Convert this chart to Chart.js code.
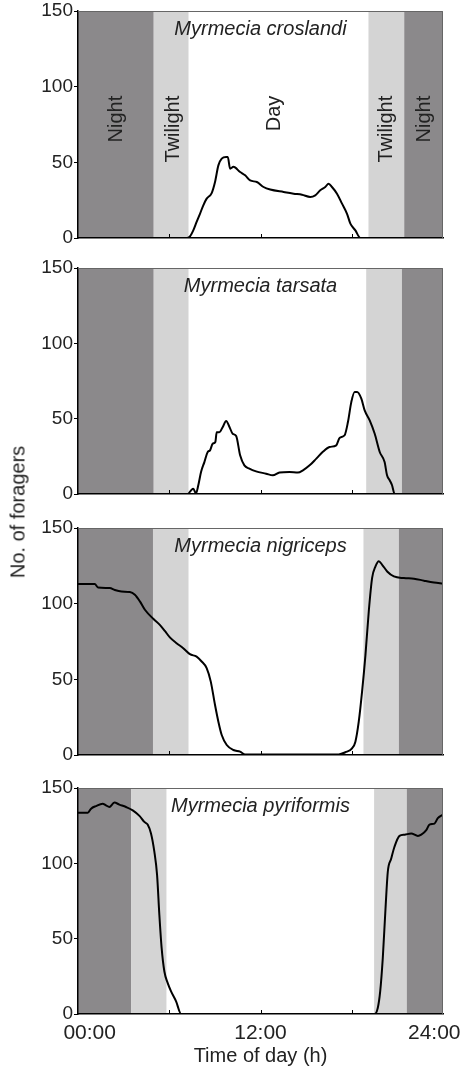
<!DOCTYPE html>
<html>
<head>
<meta charset="utf-8">
<title>Foraging activity of Myrmecia ants</title>
<script src="https://cdn.jsdelivr.net/npm/chart.js@4.4.1/dist/chart.umd.min.js"></script>
<style>
  body { margin: 0; background: #fff; overflow: hidden; }
  #wrap { position: relative; width: 467px; height: 1069px; overflow: hidden; }
  .panel { position: absolute; left: 0; width: 500px; }
  #ylab {
    position: absolute; left: 18px; top: 512px;
    transform: translate(-50%, -50%) rotate(-90deg);
    font: 20px "Liberation Sans", Arial, sans-serif; color: #222; white-space: nowrap;
  }
</style>
</head>
<body>
<div id="wrap">
  <div class="panel" style="top:-3px;height:255px"><canvas id="c1"></canvas></div>
  <div class="panel" style="top:254px;height:254px"><canvas id="c2"></canvas></div>
  <div class="panel" style="top:514px;height:255px"><canvas id="c3"></canvas></div>
  <div class="panel" style="top:774px;height:295px"><canvas id="c4"></canvas></div>
  <div id="ylab">No. of foragers</div>
</div>
<script>
// hours of day and number of foragers
const crosHours = [0, 7.14, 7.36, 7.58, 7.8, 8.02, 8.24, 8.46, 8.79, 9.01, 9.23, 9.45, 9.74, 9.85, 10.0, 10.22, 10.66, 10.99, 11.32, 11.76, 12.2, 12.64, 13.52, 14.18, 14.73, 15.27, 15.6, 15.93, 16.26, 16.48, 16.7, 17.03, 17.36, 17.69, 17.91, 18.24, 18.57, 24];
const crosCount = [0, 0, 1, 5, 10.6, 16, 21.6, 26, 29.7, 37, 48, 52.4, 53.5, 53.5, 45.8, 47, 43.6, 41.4, 38, 37, 33.7, 32, 30.4, 29.3, 28.6, 27.1, 28.2, 31.5, 33.7, 35.9, 33.7, 29.3, 22.7, 16, 9.5, 5, 0, 0];

const tarsHours = [0, 7.21, 7.43, 7.58, 7.76, 7.91, 8.09, 8.31, 8.53, 8.68, 8.86, 9.03, 9.12, 9.29, 9.52, 9.74, 9.96, 10.17, 10.4, 10.66, 10.94, 11.27, 11.71, 12.37, 12.81, 13.25, 13.91, 14.46, 14.79, 15.23, 15.67, 16.1, 16.54, 16.98, 17.2, 17.53, 17.75, 17.97, 18.19, 18.35, 18.63, 18.85, 19.18, 19.51, 19.84, 20.16, 20.32, 20.5, 20.65, 20.82, 24];
const tarsCount = [0, 0, 2.4, 3.5, 0.4, 5.8, 14.6, 21.2, 27.9, 29, 33.4, 34.5, 41, 41, 44.5, 48.5, 44.5, 40, 38.5, 25.7, 19, 16.8, 15, 13.5, 12.4, 14.2, 14.6, 14.2, 15.7, 19, 23.5, 28, 31.2, 32.3, 37.2, 39, 47.8, 61, 67.7, 67.7, 63.3, 55.5, 48.9, 40, 27.9, 21.2, 12.4, 9, 5.8, 0, 0];

const nigrHours = [0, 1.1, 1.32, 2.09, 2.42, 2.86, 3.41, 3.74, 4.07, 4.4, 4.95, 5.38, 5.71, 6.04, 6.48, 6.92, 7.36, 7.8, 8.13, 8.46, 8.73, 9.01, 9.23, 9.45, 9.78, 10.22, 10.66, 10.99, 17.14, 17.58, 18.02, 18.24, 18.46, 18.68, 18.9, 19.12, 19.34, 19.56, 19.78, 20.0, 20.33, 20.77, 21.43, 22.09, 22.75, 23.41, 24];
const nigrCount = [113, 113, 110.7, 110.3, 109, 108, 107.7, 105.9, 101.5, 96, 90, 86, 82, 77.7, 73.9, 70.6, 66.6, 65, 61.8, 57.4, 48.5, 33, 22, 13.2, 6.6, 3.3, 2.2, 0.4, 0.4, 1.8, 4.4, 8.8, 22, 42, 66, 95, 117, 124.6, 128, 125.7, 121.3, 118, 116.9, 116.5, 115.2, 114, 113.2];

const pyriHours = [0, 0.64, 0.86, 1.18, 1.62, 1.84, 2.06, 2.39, 2.72, 3.16, 3.6, 4.04, 4.36, 4.58, 4.8, 5.02, 5.2, 5.35, 5.5, 5.68, 5.9, 6.12, 6.45, 6.78, 19.5, 19.71, 19.87, 20.04, 20.22, 20.37, 20.59, 20.81, 21.14, 21.47, 21.91, 22.35, 22.57, 22.9, 23.11, 23.44, 23.66, 24];
const pyriCount = [133.5, 133.5, 136.3, 138, 139.6, 138.5, 137.4, 140.3, 139, 137.4, 135.2, 131.5, 127.5, 125.7, 119.8, 107.7, 92.2, 65.7, 43.7, 28.2, 20.5, 15, 8.4, 0, 0, 4, 15, 37, 70, 94.4, 103, 111, 118.2, 119, 119.8, 118.2, 119, 122, 125.7, 126.4, 130, 132.4];

// dusk/dawn limits (h): night|twilight, twilight|day, day|twilight, twilight|night
const crosPhases = [4.98, 7.28, 19.1, 21.45];
const tarsPhases = [4.98, 7.28, 18.95, 21.3];
const nigrPhases = [4.93, 7.28, 18.77, 21.1];
const pyriPhases = [3.49, 5.83, 19.47, 21.62];

const speciesNames = ['Myrmecia croslandi', 'Myrmecia tarsata', 'Myrmecia nigriceps', 'Myrmecia pyriformis'];
const phaseNames = ['Night', 'Twilight', 'Day', 'Twilight', 'Night'];
const phaseLabelHours = [2.5, 6.25, 12.9, 20.26, 22.76];
const yTicks = [0, 50, 100, 150];
const xTickLabels = ['00:00', '12:00', '24:00'];
const minorHours = [6, 12, 18];

const FONT = '"Liberation Sans", Arial, sans-serif';
const DARK = '#8b898b';
const LIGHT = '#d4d4d4';

// the end labels sit a little inside the axis ends, as in the original figure
function xLabel(v) {
  if (v % 12 !== 0) return '';
  const t = xTickLabels[v / 12];
  if (v === 0) return '    ' + t;
  if (v === 24) return t + '   ';
  return t;
}

const phasePlugin = {
  id: 'phases',
  beforeDraw(chart, args, opts) {
    const { ctx, chartArea: a, scales: { x, y } } = chart;
    const edges = [0, ...opts.edges, 24];
    const fills = [DARK, LIGHT, '#fff', LIGHT, DARK];
    ctx.save();
    for (let i = 0; i < fills.length; i++) {
      const x0 = x.getPixelForValue(edges[i]);
      const x1 = x.getPixelForValue(edges[i + 1]);
      ctx.fillStyle = fills[i];
      ctx.fillRect(x0, a.top, x1 - x0, a.bottom - a.top);
    }
    ctx.fillStyle = '#222';
    if (opts.showNames) {
      ctx.font = '20px ' + FONT;
      ctx.textAlign = 'right';
      ctx.textBaseline = 'middle';
      phaseNames.forEach((n, i) => {
        ctx.save();
        ctx.translate(x.getPixelForValue(phaseLabelHours[i]), y.getPixelForValue(94));
        ctx.rotate(-Math.PI / 2);
        ctx.fillText(n, 0, 0);
        ctx.restore();
      });
    }
    ctx.font = 'italic 20px ' + FONT;
    ctx.textAlign = 'center';
    ctx.textBaseline = 'alphabetic';
    ctx.fillText(opts.title, (a.left + a.right) / 2, a.top + 24);
    ctx.restore();
  },
  afterDatasetsDraw(chart) {
    const { ctx, chartArea: a, scales: { x } } = chart;
    ctx.save();
    ctx.strokeStyle = '#000';
    ctx.lineWidth = 1;
    minorHours.forEach(h => {
      const px = Math.round(x.getPixelForValue(h)) + 0.5;
      ctx.beginPath();
      ctx.moveTo(px, a.bottom);
      ctx.lineTo(px, a.bottom - 4);
      ctx.stroke();
    });
    ctx.strokeStyle = '#666';
    ctx.beginPath();
    ctx.moveTo(a.left, a.top + 0.5);
    ctx.lineTo(a.right - 0.5, a.top + 0.5);
    ctx.lineTo(a.right - 0.5, a.bottom);
    ctx.stroke();
    ctx.restore();
  }
};

function makePanel(id, hours, counts, phases, title, showNames, isBottom) {
  new Chart(document.getElementById(id), {
    type: 'line',
    data: {
      datasets: [{
        data: hours.map((h, i) => ({ x: h, y: counts[i] })),
        borderColor: '#000',
        borderWidth: 2,
        pointRadius: 0,
        cubicInterpolationMode: 'monotone',
        fill: false
      }]
    },
    options: {
      responsive: true,
      maintainAspectRatio: false,
      animation: false,
      layout: { padding: { top: 14, right: 57, left: 0, bottom: 0 } },
      plugins: {
        legend: { display: false },
        tooltip: { enabled: false },
        phases: { edges: phases, title: title, showNames: showNames }
      },
      scales: {
        x: {
          type: 'linear', min: 0, max: 24,
          grid: { display: false },
          border: { color: '#000', width: 1.5 },
          ticks: {
            display: isBottom, stepSize: 6, autoSkip: false, maxRotation: 0,
            padding: -1, color: '#222', font: { family: FONT, size: 21 },
            callback: xLabel
          },
          title: {
            display: isBottom, text: 'Time of day (h)', color: '#222',
            font: { family: FONT, size: 20 }, padding: { top: 0, bottom: 1 }
          },
          afterFit: s => { s.height = isBottom ? 55 : 14; }
        },
        y: {
          min: 0, max: 150,
          afterBuildTicks: s => { s.ticks = yTicks.map(v => ({ value: v })); },
          grid: { drawOnChartArea: false, drawTicks: true, tickLength: 4, color: '#000' },
          border: { color: '#000', width: 1.5 },
          ticks: { padding: 1, color: '#222', font: { family: FONT, size: 19 } },
          afterFit: s => { s.width = 78; }
        }
      }
    },
    plugins: [phasePlugin]
  });
}

makePanel('c1', crosHours, crosCount, crosPhases, speciesNames[0], true, false);
makePanel('c2', tarsHours, tarsCount, tarsPhases, speciesNames[1], false, false);
makePanel('c3', nigrHours, nigrCount, nigrPhases, speciesNames[2], false, false);
makePanel('c4', pyriHours, pyriCount, pyriPhases, speciesNames[3], false, true);
</script>
</body>
</html>
